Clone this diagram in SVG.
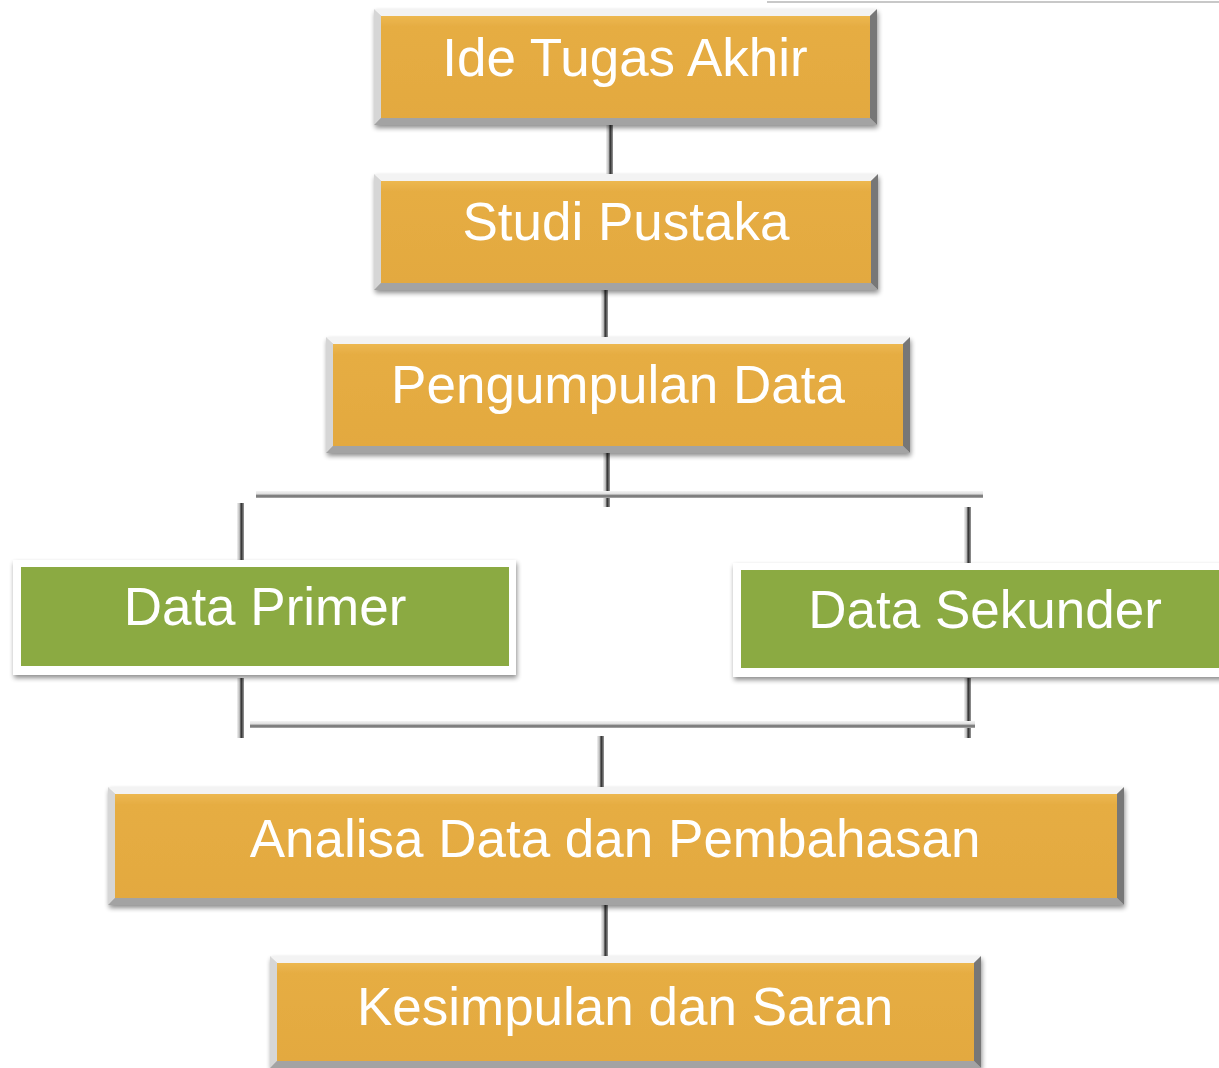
<svg xmlns="http://www.w3.org/2000/svg" width="1219" height="1068" viewBox="0 0 1219 1068">
<defs>
<filter id="sh" x="-5%" y="-10%" width="110%" height="125%">
<feGaussianBlur in="SourceAlpha" stdDeviation="2.5"/>
<feOffset dx="1" dy="3" result="b"/>
<feComponentTransfer><feFuncA type="linear" slope="0.45"/></feComponentTransfer>
<feMerge><feMergeNode/><feMergeNode in="SourceGraphic"/></feMerge>
</filter>
<linearGradient id="org" x1="0" y1="0" x2="0" y2="1">
<stop offset="0" stop-color="#EDB850"/>
<stop offset="0.1" stop-color="#E6AD43"/>
<stop offset="1" stop-color="#E3A940"/>
</linearGradient>
<linearGradient id="pv" x1="0" y1="0" x2="1" y2="0">
<stop offset="0" stop-color="#f2f2f2"/>
<stop offset="0.35" stop-color="#bdbdbd"/>
<stop offset="0.6" stop-color="#2e2e2e"/>
<stop offset="1" stop-color="#9a9a9a"/>
</linearGradient>
<linearGradient id="ph" x1="0" y1="0" x2="0" y2="1">
<stop offset="0" stop-color="#f4f4f4"/>
<stop offset="0.4" stop-color="#e0e0e0"/>
<stop offset="0.7" stop-color="#6a6a6a"/>
<stop offset="1" stop-color="#b0b0b0"/>
</linearGradient>
</defs>
<style>
.t{font-family:"Liberation Sans",Arial,sans-serif;font-size:53px;fill:#ffffff;text-anchor:middle}
.bt{fill:#f3f3f3}.bl{fill:#d6d6d6}.br{fill:#777777}.bb{fill:#a3a3a3}
.o{fill:url(#org)}.g{fill:#8BAA42}.w{fill:#ffffff}
.pv{fill:url(#pv)}.ph{fill:url(#ph)}
</style>
<line x1="767" y1="2" x2="1219" y2="2" stroke="#c8c8c8" stroke-width="2"/>
<g id="connectors">
<rect class="pv" x="606" y="123" width="7" height="54"/>
<rect class="pv" x="601" y="288" width="7" height="52"/>
<rect class="pv" x="603" y="451" width="7" height="56"/>
<rect class="ph" x="256" y="491" width="727" height="7"/>
<rect class="pv" x="237" y="503" width="7" height="59"/>
<rect class="pv" x="964" y="507" width="7" height="58"/>
<rect class="pv" x="237" y="678" width="7" height="60"/>
<rect class="pv" x="964" y="678" width="7" height="60"/>
<rect class="ph" x="250" y="721" width="725" height="7"/>
<rect class="pv" x="597" y="736" width="7" height="54"/>
<rect class="pv" x="601" y="900" width="7" height="58"/>
</g>
<g id="n1" filter="url(#sh)">
<polygon class="bt" points="374,9 877,9 870,16 381,16"/>
<polygon class="bl" points="374,9 381,16 381,118 374,125"/>
<polygon class="br" points="877,9 877,125 870,118 870,16"/>
<polygon class="bb" points="374,125 381,118 870,118 877,125"/>
<rect class="o" x="381" y="16" width="489" height="102"/>
<text class="t" x="625" y="76">Ide Tugas Akhir</text>
</g>
<g id="n2" filter="url(#sh)">
<polygon class="bt" points="374,174 878,174 871,181 381,181"/>
<polygon class="bl" points="374,174 381,181 381,283 374,290"/>
<polygon class="br" points="878,174 878,290 871,283 871,181"/>
<polygon class="bb" points="374,290 381,283 871,283 878,290"/>
<rect class="o" x="381" y="181" width="490" height="102"/>
<text class="t" x="626" y="240">Studi Pustaka</text>
</g>
<g id="n3" filter="url(#sh)">
<polygon class="bt" points="326,337 910,337 903,344 333,344"/>
<polygon class="bl" points="326,337 333,344 333,446 326,453"/>
<polygon class="br" points="910,337 910,453 903,446 903,344"/>
<polygon class="bb" points="326,453 333,446 903,446 910,453"/>
<rect class="o" x="333" y="344" width="570" height="102"/>
<text class="t" x="618" y="403">Pengumpulan Data</text>
</g>
<g id="n4" filter="url(#sh)">
<rect class="w" x="13" y="560" width="503" height="115"/>
<rect class="g" x="21" y="567" width="488" height="99"/>
<text class="t" x="265" y="625">Data Primer</text>
</g>
<g id="n5" filter="url(#sh)">
<rect class="w" x="733" y="563" width="500" height="114"/>
<rect class="g" x="741" y="570" width="490" height="98"/>
<text class="t" x="985" y="628">Data Sekunder</text>
</g>
<g id="n6" filter="url(#sh)">
<polygon class="bt" points="108,787 1124,787 1117,794 115,794"/>
<polygon class="bl" points="108,787 115,794 115,898 108,905"/>
<polygon class="br" points="1124,787 1124,905 1117,898 1117,794"/>
<polygon class="bb" points="108,905 115,898 1117,898 1124,905"/>
<rect class="o" x="115" y="794" width="1002" height="104"/>
<text class="t" x="615" y="857">Analisa Data dan Pembahasan</text>
</g>
<g id="n7" filter="url(#sh)">
<polygon class="bt" points="270,956 981,956 974,963 277,963"/>
<polygon class="bl" points="270,956 277,963 277,1061 270,1068"/>
<polygon class="br" points="981,956 981,1068 974,1061 974,963"/>
<polygon class="bb" points="270,1068 277,1061 974,1061 981,1068"/>
<rect class="o" x="277" y="963" width="697" height="98"/>
<text class="t" x="625" y="1025">Kesimpulan dan Saran</text>
</g>
</svg>
